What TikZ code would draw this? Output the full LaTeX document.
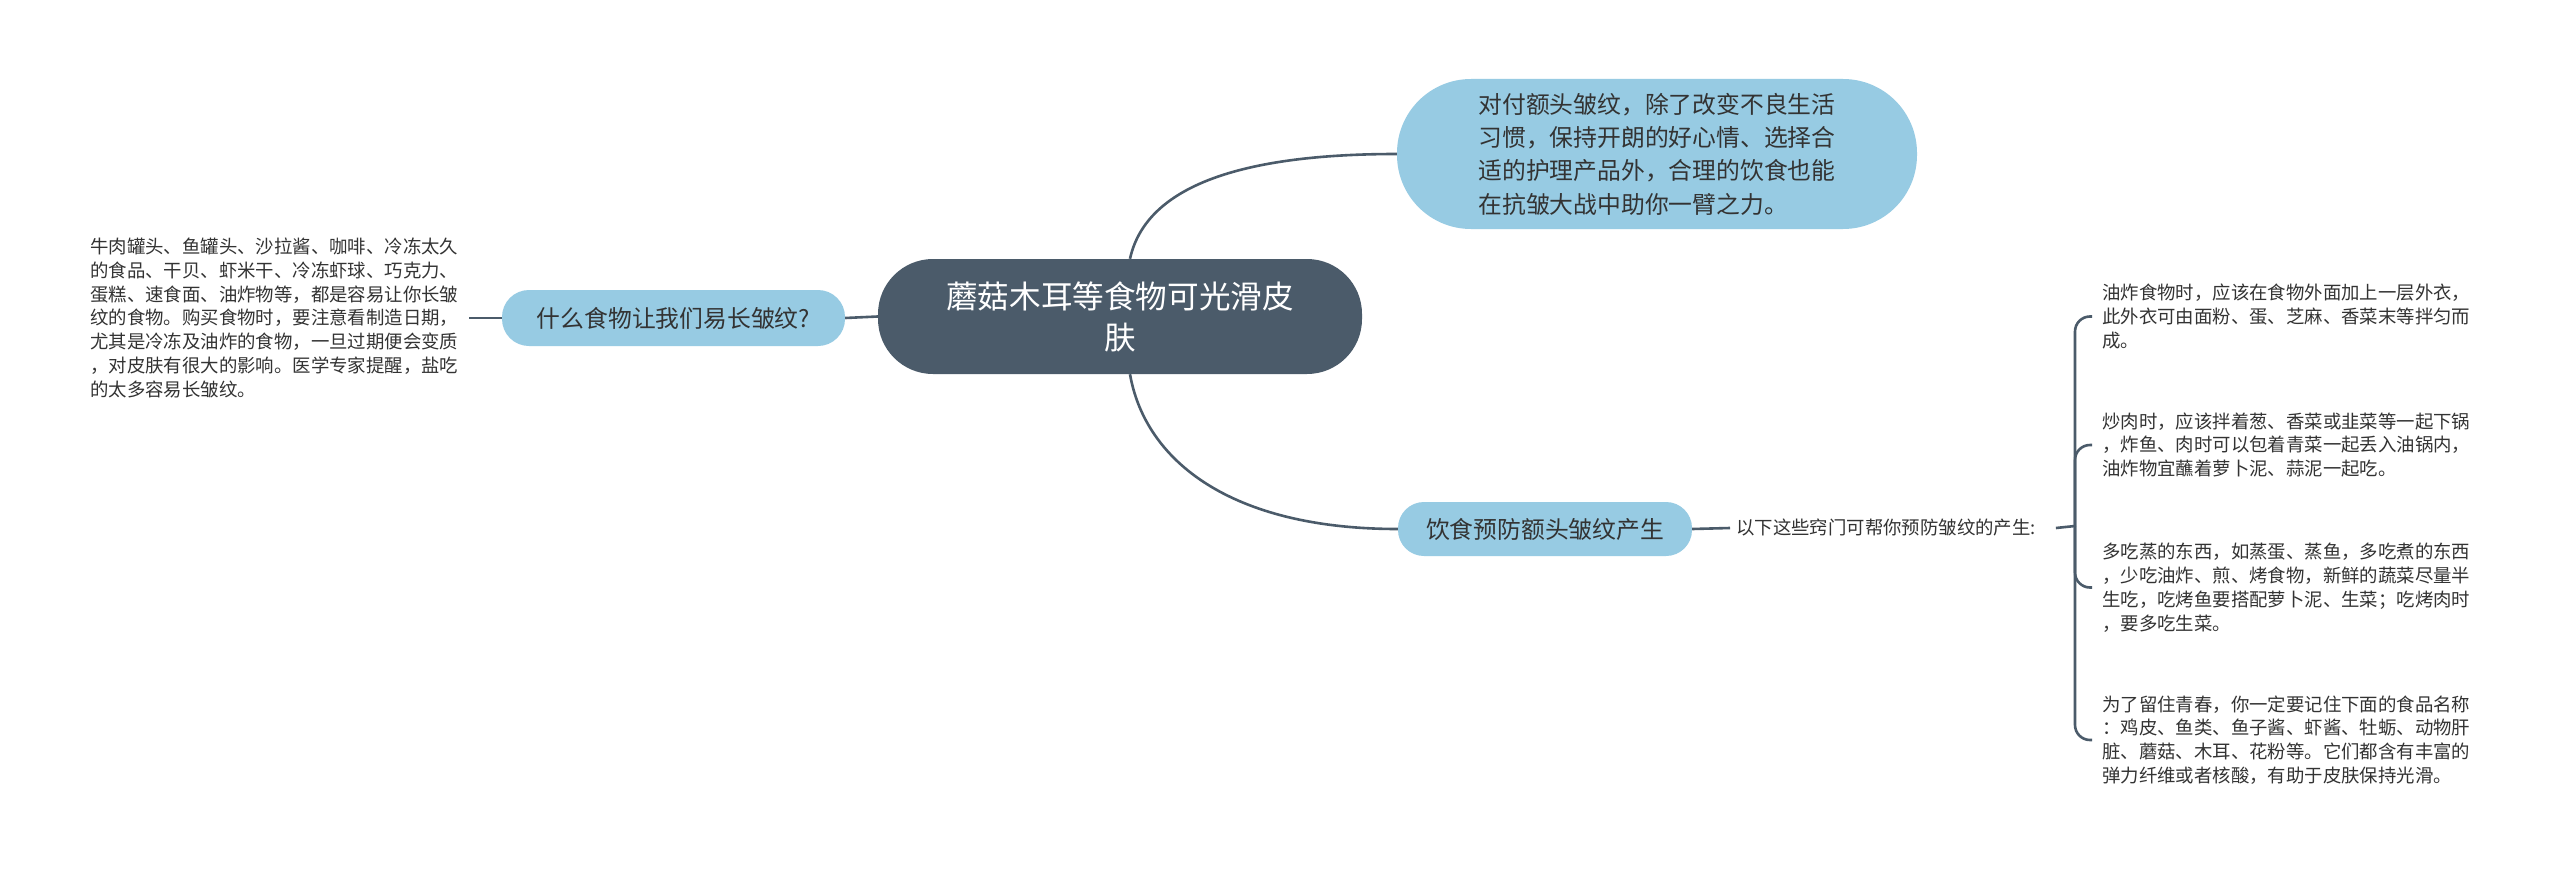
\documentclass[tikz,border=0pt]{standalone}
\usepackage{fontspec}
\setmainfont{Noto Sans CJK SC}
\usetikzlibrary{calc}
\definecolor{slate}{HTML}{4B5B6A}
\definecolor{sky}{HTML}{97CBE3}
\definecolor{ink}{HTML}{333333}
\begin{document}
\begin{tikzpicture}[x=1pt,y=-1pt,
  conn/.style={draw=slate,line width=2.6pt},
  root/.style={fill=slate,text=white,rounded corners=55pt,minimum width=484pt,minimum height=115pt,align=center,inner sep=0pt,font=\fontsize{31.6}{41}\selectfont},
  topic/.style={fill=sky,text=ink,align=center,inner sep=0pt},
  note/.style={text=ink,align=left,inner sep=0pt,anchor=west,font=\fontsize{18.4}{23.8}\selectfont}]
\fill[white] (0,0) rectangle (2560,875);
\useasboundingbox (0,0) rectangle (2560,875);

\node[root] (c) at (1120,316.5) {蘑菇木耳等食物可光滑皮\\肤};

\node[topic,minimum width=520pt,minimum height=150pt,rounded corners=74pt,align=left,font=\fontsize{23.8}{33.3}\selectfont] (t) at (1657,154)
{对付额头皱纹，除了改变不良生活\\习惯，保持开朗的好心情、选择合\\适的护理产品外，合理的饮食也能\\在抗皱大战中助你一臂之力。};

\node[topic,minimum width=343pt,minimum height=56pt,rounded corners=27pt,font=\fontsize{23.8}{28}\selectfont] (l) at (673.5,318) {什么食物让我们易长皱纹?};

\node[topic,minimum width=294pt,minimum height=54pt,rounded corners=26pt,font=\fontsize{23.8}{28}\selectfont] (b) at (1545,529) {饮食预防额头皱纹产生};

\node[note] (lt) at (90,318)
{牛肉罐头、鱼罐头、沙拉酱、咖啡、冷冻太久\\的食品、干贝、虾米干、冷冻虾球、巧克力、\\蛋糕、速食面、油炸物等，都是容易让你长皱\\纹的食物。购买食物时，要注意看制造日期，\\尤其是冷冻及油炸的食物，一旦过期便会变质\\，对皮肤有很大的影响。医学专家提醒，盐吃\\的太多容易长皱纹。};

\node[note,font=\fontsize{18.4}{22}\selectfont] (lab) at (1736,528) {以下这些窍门可帮你预防皱纹的产生:};

\node[note] (r1) at (2102,316.5)
{油炸食物时，应该在食物外面加上一层外衣，\\此外衣可由面粉、蛋、芝麻、香菜末等拌匀而\\成。};
\node[note] (r2) at (2102,445)
{炒肉时，应该拌着葱、香菜或韭菜等一起下锅\\，炸鱼、肉时可以包着青菜一起丢入油锅内，\\油炸物宜蘸着萝卜泥、蒜泥一起吃。};
\node[note] (r3) at (2102,587.5)
{多吃蒸的东西，如蒸蛋、蒸鱼，多吃煮的东西\\，少吃油炸、煎、烤食物，新鲜的蔬菜尽量半\\生吃，吃烤鱼要搭配萝卜泥、生菜；吃烤肉时\\，要多吃生菜。};
\node[note] (r4) at (2102,740)
{为了留住青春，你一定要记住下面的食品名称\\：鸡皮、鱼类、鱼子酱、虾酱、牡蛎、动物肝\\脏、蘑菇、木耳、花粉等。它们都含有丰富的\\弹力纤维或者核酸，有助于皮肤保持光滑。};

\coordinate (j) at (2075,526);

\draw[conn] (c.west) -- (l.east);
\draw[conn] (l.west) -- ([xshift=11pt]lt.east);
\draw[conn] ($(c.north)+(10,0)$) .. controls +(15,-68) and +(-167,0) .. (t.west);
\draw[conn] ($(c.south)+(10,0)$) .. controls +(15,86) and +(-168,0) .. (b.west);
\draw[conn] (b.east) -- ([xshift=-6pt]lab.west);
\draw[conn] ($(lab.east)+(20,0)$) -- (j);
\foreach \r in {r1,r2,r3,r4}
  \draw[conn,rounded corners=15pt] (j) |- ([xshift=-10pt]\r.west);
\end{tikzpicture}
\end{document}
